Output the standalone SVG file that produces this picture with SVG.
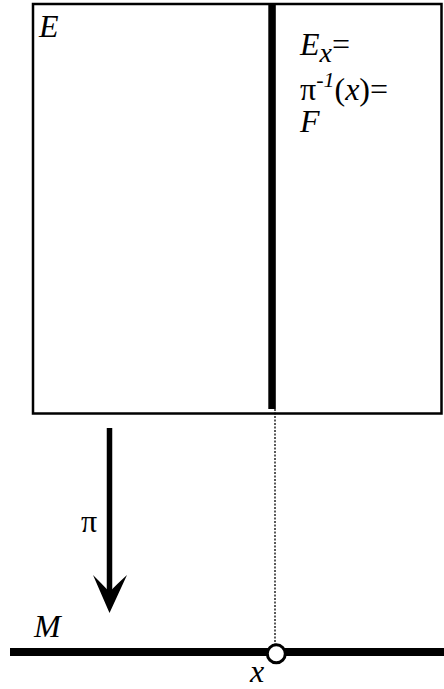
<svg xmlns="http://www.w3.org/2000/svg" width="444" height="689" viewBox="0 0 444 689">
<style>
text{font-family:'Liberation Serif','Times New Roman','DejaVu Serif',serif;font-size:32px;fill:#000}
.i{font-style:italic}
</style>
<rect width="444" height="689" fill="#fff"/>
<g id="bundle-E">
<rect x="33" y="4" width="408.5" height="409.5" fill="#fff" stroke="#000" stroke-width="2.5"/>
<text class="i" x="39" y="37">E</text>
</g>
<g id="fiber-F">
<rect x="268.3" y="3" width="7.5" height="406" fill="#000"/>
<text x="300" y="55"><tspan class="i">E</tspan><tspan class="i" font-size="28" dy="7">x</tspan><tspan dy="-7">=</tspan></text>
<text x="300" y="100">π<tspan class="i" font-size="22" dy="-13">-1</tspan><tspan dy="13">(</tspan><tspan class="i">x</tspan>)=</text>
<text class="i" x="300" y="132">F</text>
</g>
<g id="base-M">
<line x1="10" y1="652" x2="444" y2="652" stroke="#000" stroke-width="8"/>
<text class="i" x="34" y="637">M</text>
</g>
<g id="point-x">
<circle cx="276.3" cy="653.8" r="9" fill="#fff" stroke="#000" stroke-width="3"/>
<text class="i" x="250" y="682">x</text>
</g>
<g id="connectors">
<line x1="275" y1="409" x2="275" y2="644" stroke="#000" stroke-width="1.3" stroke-dasharray="2 1.5"/>
<line x1="109.5" y1="428" x2="109.5" y2="596" stroke="#000" stroke-width="5.5"/>
<path d="M109.5 613 L93 575 Q103 585 109.5 592 Q116 585 127 575 Z" fill="#000"/>
<text x="81" y="532">π</text>
</g>
</svg>
